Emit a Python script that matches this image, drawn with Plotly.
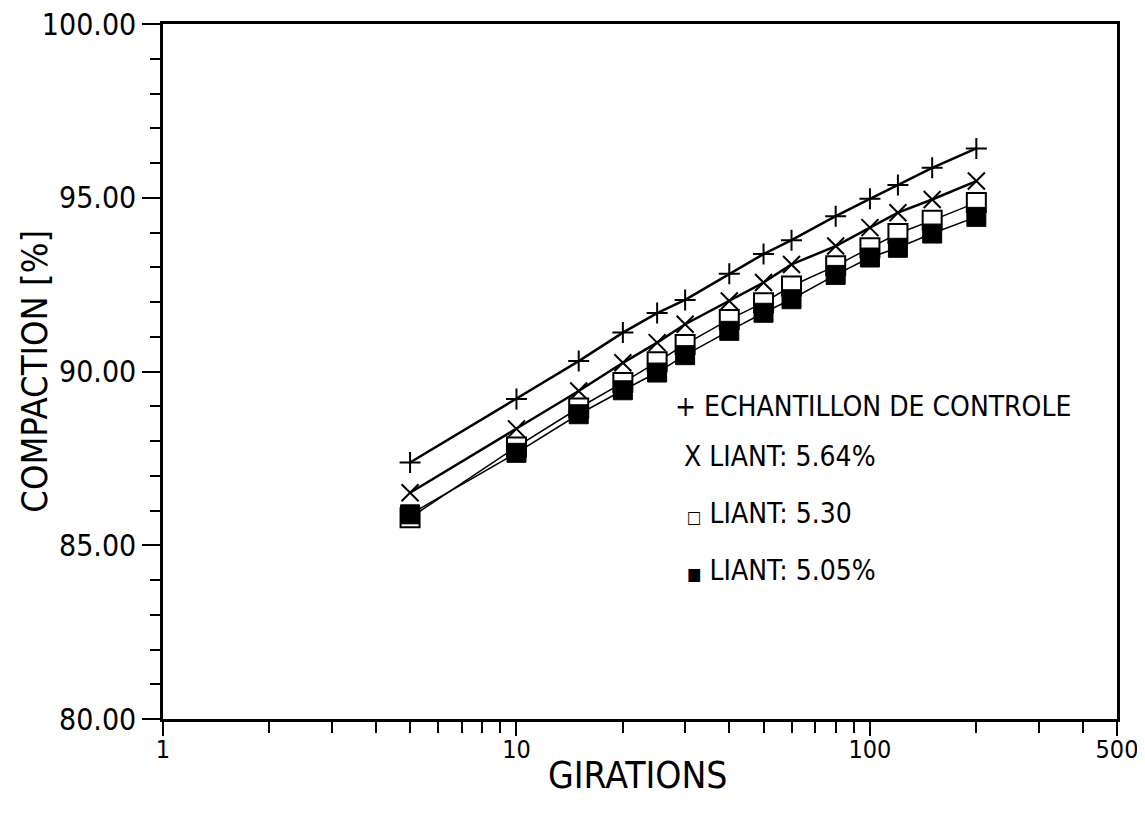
import plotly.graph_objects as go

girations = [5, 10, 15, 20, 25, 30, 40, 50, 60, 80, 100, 120, 150, 200]
controle = [87.38, 89.21, 90.30, 91.12, 91.68, 92.06, 92.81, 93.38, 93.78, 94.47, 94.97, 95.37, 95.86, 96.42]
liant_564 = [86.51, 88.35, 89.44, 90.25, 90.83, 91.36, 92.03, 92.56, 93.08, 93.61, 94.14, 94.57, 94.95, 95.48]
liant_530 = [85.79, 87.83, 88.95, 89.68, 90.28, 90.78, 91.50, 91.98, 92.46, 93.04, 93.56, 93.97, 94.35, 94.86]
liant_505 = [85.89, 87.66, 88.77, 89.46, 89.97, 90.47, 91.17, 91.69, 92.08, 92.78, 93.28, 93.56, 93.97, 94.45]

x_tickvals = [1, 10, 100, 500]
x_ticktext = ["1", "10", "100", "500"]
x_minor = [2, 3, 4, 5, 6, 7, 8, 9, 20, 30, 40, 50, 60, 70, 80, 90, 200, 300, 400]
y_tickvals = [80, 85, 90, 95, 100]

x_title = "GIRATIONS"
y_title = "COMPACTION [%]"
legend_labels = [
    "+ ECHANTILLON DE CONTROLE",
    "X LIANT: 5.64%",
    "<span style='font-size:17px'>□</span> LIANT: 5.30",
    "<span style='font-size:17px'>■</span> LIANT: 5.05%",
]

FONT = "DejaVu Sans Condensed, Liberation Sans Narrow, Arial Narrow, sans-serif"

fig = go.Figure()
fig.add_trace(go.Scatter(
    x=girations, y=controle, mode="lines+markers",
    line=dict(color="black", width=2.5),
    marker=dict(symbol="cross-thin", size=15, color="black", line=dict(color="black", width=2)),
))
fig.add_trace(go.Scatter(
    x=girations, y=liant_564, mode="lines+markers",
    line=dict(color="black", width=2.5),
    marker=dict(symbol="x-thin", size=17, color="black", line=dict(color="black", width=2)),
))
fig.add_trace(go.Scatter(
    x=girations, y=liant_530, mode="lines+markers",
    line=dict(color="black", width=1.5),
    marker=dict(symbol="square", size=19, color="white", line=dict(color="black", width=2)),
))
fig.add_trace(go.Scatter(
    x=girations, y=liant_505, mode="lines+markers",
    line=dict(color="black", width=1.5),
    marker=dict(symbol="square", size=19, color="black", line=dict(color="black", width=1)),
))

legend_y = [0.450, 0.378, 0.295, 0.213]
legend_x = [0.535, 0.544, 0.547, 0.547]
for txt, lx, ly in zip(legend_labels, legend_x, legend_y):
    fig.add_annotation(
        text=txt, xref="paper", yref="paper", x=lx, y=ly,
        xanchor="left", yanchor="middle", showarrow=False,
        font=dict(family=FONT, size=28, color="black"),
    )

fig.add_annotation(
    text=x_title, xref="paper", yref="paper", x=0.498, y=-0.082,
    xanchor="center", yanchor="middle", showarrow=False,
    font=dict(family=FONT, size=37, color="black"),
)
fig.add_annotation(
    text=y_title, xref="paper", yref="paper", x=-0.135, y=0.5,
    xanchor="center", yanchor="middle", showarrow=False, textangle=-90,
    font=dict(family=FONT, size=36, color="black"),
)

fig.update_xaxes(
    type="log", range=[0, 2.69897], automargin=False,
    tickmode="array", tickvals=x_tickvals, ticktext=x_ticktext,
    ticks="outside", ticklen=14, tickwidth=2, tickcolor="black",
    ticklabelstandoff=-8, ticklabeloverflow="allow",
    minor=dict(tickmode="array", tickvals=x_minor, ticks="outside", ticklen=11, tickwidth=2, tickcolor="black", showgrid=False),
    showline=True, linecolor="black", linewidth=2.5, mirror=True,
    showgrid=False, zeroline=False,
    tickfont=dict(family=FONT, size=25, color="black"),
)
fig.update_yaxes(
    range=[80, 100], automargin=False,
    tickmode="array", tickvals=y_tickvals, tickformat=".2f",
    ticks="outside", ticklen=18, tickwidth=2, tickcolor="black",
    ticklabeloverflow="allow",
    minor=dict(dtick=1, ticks="outside", ticklen=10, tickwidth=2, tickcolor="black", showgrid=False),
    showline=True, linecolor="black", linewidth=2.5, mirror=True,
    showgrid=False, zeroline=False,
    tickfont=dict(family=FONT, size=30, color="black"),
)
fig.update_layout(
    width=1137, height=803,
    margin=dict(l=155, r=28, t=16, b=92),
    paper_bgcolor="white", plot_bgcolor="white",
    showlegend=False,
)
fig.write_html("out.html")
